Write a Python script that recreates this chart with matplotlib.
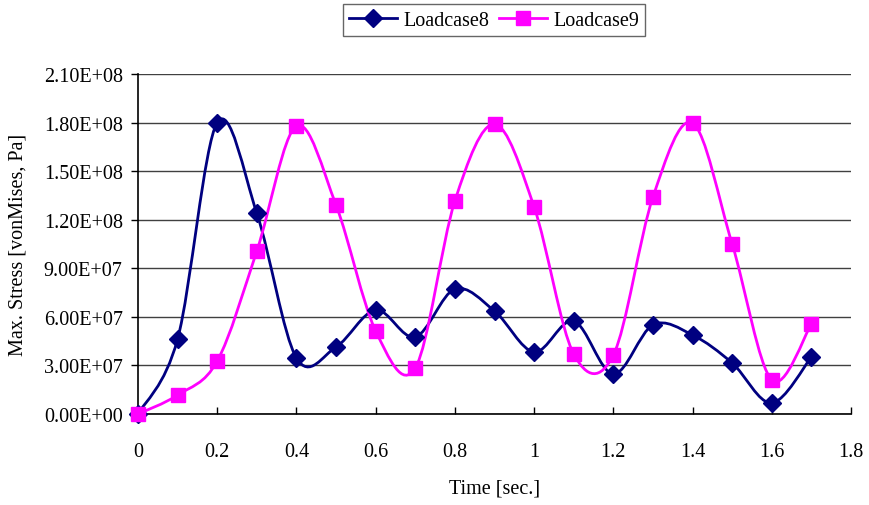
import matplotlib
matplotlib.use("Agg")
import matplotlib.pyplot as plt
from matplotlib.path import Path
from matplotlib.patches import PathPatch
from matplotlib.lines import Line2D
from matplotlib.ticker import FuncFormatter

plt.rcParams['font.family'] = ['Liberation Serif', 'DejaVu Serif']

time = [0, 0.1, 0.2, 0.3, 0.4, 0.5, 0.6, 0.7, 0.8, 0.9,
        1.0, 1.1, 1.2, 1.3, 1.4, 1.5, 1.6, 1.7]
loadcase8 = [0, 4.63e7, 1.80e8, 1.24e8, 3.46e7, 4.14e7, 6.42e7, 4.76e7, 7.72e7,
             6.36e7, 3.83e7, 5.74e7, 2.47e7, 5.50e7, 4.88e7, 3.15e7, 6.8e6, 3.52e7]
loadcase9 = [0, 1.17e7, 3.27e7, 1.007e8, 1.779e8, 1.29e8, 5.13e7, 2.84e7, 1.316e8,
             1.79e8, 1.279e8, 3.70e7, 3.64e7, 1.34e8, 1.797e8, 1.05e8, 2.10e7, 5.56e7]

x_ticks = [0, 0.2, 0.4, 0.6, 0.8, 1, 1.2, 1.4, 1.6, 1.8]
y_ticks = [0, 3e7, 6e7, 9e7, 1.2e8, 1.5e8, 1.8e8, 2.1e8]

FS = 14.5


def smooth_path(xs, ys):
    # Excel-style smoothed line: cubic bezier segments through every point
    pts = list(zip(xs, ys))
    n = len(pts)
    verts = [pts[0]]
    codes = [Path.MOVETO]
    for i in range(n - 1):
        p0 = pts[i - 1] if i > 0 else pts[i]
        p1 = pts[i]
        p2 = pts[i + 1]
        p3 = pts[i + 2] if i + 2 < n else pts[i + 1]
        c1 = (p1[0] + (p2[0] - p0[0]) / 6, p1[1] + (p2[1] - p0[1]) / 6)
        c2 = (p2[0] - (p3[0] - p1[0]) / 6, p2[1] - (p3[1] - p1[1]) / 6)
        verts += [c1, c2, p2]
        codes += [Path.CURVE4] * 3
    return Path(verts, codes)


fig = plt.figure(figsize=(8.69, 5.06), dpi=100)
ax = fig.add_axes([138 / 869, 1 - 415 / 506, (851 - 138) / 869, (415 - 75) / 506])

series = [(loadcase8, '#000080', 'D', 9, 'Loadcase8'),
          (loadcase9, '#FF00FF', 's', 9.5, 'Loadcase9')]
handles = []
for vals, color, marker, ms, label in series:
    ax.add_patch(PathPatch(smooth_path(time, vals), fill=False, edgecolor=color,
                           lw=2, zorder=3, clip_on=False))
    ax.plot(time, vals, linestyle='none', marker=marker, ms=ms, color=color,
            zorder=4, clip_on=False)
    handles.append(Line2D([], [], color=color, lw=2, marker=marker, ms=ms, label=label))

ax.set_xlim(0, 1.8)
ax.set_ylim(0, 2.1e8)
ax.set_xticks(x_ticks)
ax.set_yticks(y_ticks)
ax.xaxis.set_major_formatter(FuncFormatter(lambda v, p: '%g' % v))
ax.yaxis.set_major_formatter(FuncFormatter(lambda v, p: ('%.2E' % v)))
ax.tick_params(axis='x', direction='in', length=5, width=1, labelsize=FS, pad=20)
ax.tick_params(axis='y', direction='out', length=5, width=1, labelsize=FS, pad=6)
ax.grid(axis='y', color='#404040', lw=1)
ax.set_axisbelow(True)
for side in ['top', 'right']:
    ax.spines[side].set_visible(False)
for side in ['left', 'bottom']:
    ax.spines[side].set_linewidth(1.2)

ax.set_xlabel('Time [sec.]', fontsize=FS)
ax.set_ylabel('Max. Stress [vonMises, Pa]', fontsize=FS)
ax.xaxis.set_label_coords(0.5, -0.19)
ax.yaxis.set_label_coords(-0.155, 0.5)

fig.legend(handles=handles, loc='center', bbox_to_anchor=(494 / 869, 1 - 21 / 506),
           ncol=2, frameon=True, fancybox=False, edgecolor='#404040', fontsize=FS,
           handlelength=2.4, columnspacing=0.5, handletextpad=0.3, borderpad=0.3)

fig.savefig('out.png', dpi=100)
